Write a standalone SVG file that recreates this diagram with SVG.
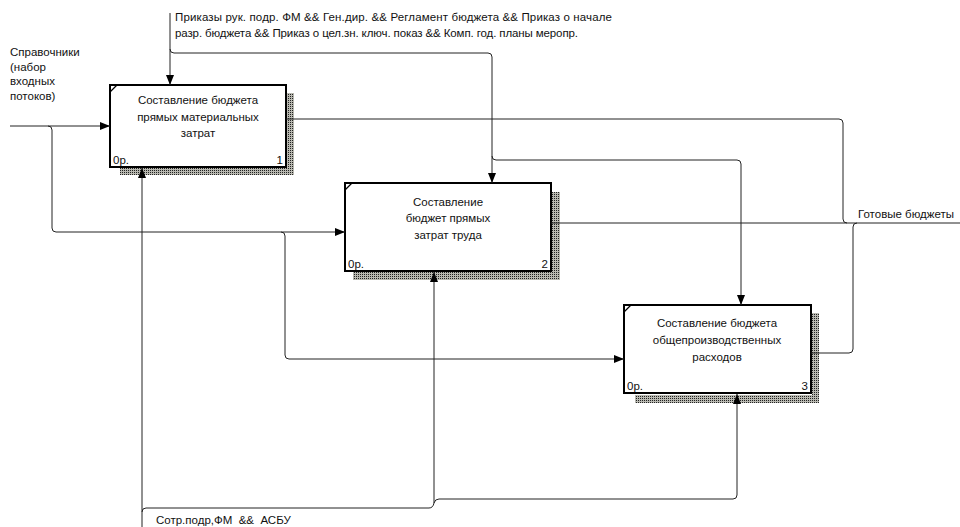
<svg xmlns="http://www.w3.org/2000/svg" width="960" height="527" viewBox="0 0 960 527">
  <defs>
    <pattern id="dots" width="2" height="2" patternUnits="userSpaceOnUse">
      <rect width="2" height="2" fill="#b8b8b0"/>
      <rect width="1" height="1" fill="#222"/>
    </pattern>
    <marker id="arrow" markerUnits="userSpaceOnUse" markerWidth="10" markerHeight="8" refX="10" refY="4" orient="auto">
      <path d="M0,0 L10,4 L0,8 z" fill="#000"/>
    </marker>
  </defs>
  <style>
    text { font-family: "Liberation Sans", Arial, sans-serif; font-size: 11.5px; fill: #111; }
    .c { text-anchor: middle; }
    .e { text-anchor: end; }
    .box { fill: #fff; stroke: #000; stroke-width: 2; }
    .shadow { fill: url(#dots); }
    .corner { stroke: #000; stroke-width: 1.2; }
    .arc { fill: none; stroke: #222; stroke-width: 1; }
    .arc.head { marker-end: url(#arrow); }
  </style>
  <rect width="960" height="527" fill="#fff"/>

  <!-- activity 1 -->
  <g id="node1">
    <rect class="shadow" x="287" y="93" width="7" height="82"/>
    <rect class="shadow" x="120" y="168" width="174" height="7"/>
    <rect class="box" x="110" y="85" width="176" height="82"/>
    <line class="corner" x1="110" y1="92" x2="117" y2="85"/>
    <text class="c" x="198" y="104">Составление бюджета</text>
    <text class="c" x="198" y="121">прямых материальных</text>
    <text class="c" x="198" y="137">затрат</text>
    <text x="113" y="164">0р.</text>
    <text class="e" x="283" y="164">1</text>
  </g>

  <!-- activity 2 -->
  <g id="node2">
    <rect class="shadow" x="552" y="192" width="8" height="88"/>
    <rect class="shadow" x="353" y="272" width="207" height="8"/>
    <rect class="box" x="345" y="183" width="206" height="88"/>
    <line class="corner" x1="345" y1="190" x2="352" y2="183"/>
    <text class="c" x="448" y="206">Составление</text>
    <text class="c" x="448" y="222">бюджет прямых</text>
    <text class="c" x="448" y="239">затрат труда</text>
    <text x="348" y="268">0р.</text>
    <text class="e" x="548" y="268">2</text>
  </g>

  <!-- activity 3 -->
  <g id="node3">
    <rect class="shadow" x="812" y="313" width="7" height="90"/>
    <rect class="shadow" x="635" y="395" width="184" height="8"/>
    <rect class="box" x="624" y="305" width="187" height="88"/>
    <line class="corner" x1="624" y1="312" x2="631" y2="305"/>
    <text class="c" x="717" y="327">Составление бюджета</text>
    <text class="c" x="717" y="344">общепроизводственных</text>
    <text class="c" x="717" y="361">расходов</text>
    <text x="627" y="390">0р.</text>
    <text class="e" x="808" y="390">3</text>
  </g>

  <!-- connectors -->
  <g id="connectors">
    <!-- input: reference data -->
    <path class="arc head" d="M10,126 H110"/>
    <path class="arc head" d="M48,126 Q52,126 52,130 V228 Q52,232 56,232 H345"/>
    <path class="arc head" d="M281,232 Q285,232 285,236 V355 Q285,359 289,359 H624"/>
    <!-- control: orders and regulations -->
    <path class="arc head" d="M170,13 V85"/>
    <path class="arc head" d="M170,49 Q170,53 174,53 H488 Q492,53 492,57 V183"/>
    <path class="arc head" d="M492,156 Q492,160 496,160 H737 Q741,160 741,164 V305"/>
    <!-- output: finished budgets -->
    <path class="arc" d="M551,223 H960"/>
    <path class="arc" d="M286,119 H839 Q843,119 843,123 V219 Q843,223 847,223"/>
    <path class="arc" d="M811,353 H849 Q853,353 853,349 V227 Q853,223 857,223"/>
    <!-- mechanism: staff and accounting system -->
    <path class="arc head" d="M142,527 V168"/>
    <path class="arc" d="M142,512 Q142,508 146,508 H429 Q433,508 434,503"/>
    <path class="arc head" d="M434,503 V272"/>
    <path class="arc head" d="M434,503 Q435,499 439,499 H733 Q737,499 737,495 V394"/>
  </g>

  <!-- arrow labels -->
  <g id="labels">
    <text x="10" y="56">Справочники</text>
    <text x="10" y="71">(набор</text>
    <text x="10" y="85">входных</text>
    <text x="10" y="100">потоков)</text>
    <text x="175" y="21" textLength="437" lengthAdjust="spacing">Приказы рук. подр. ФМ &amp;&amp; Ген.дир. &amp;&amp; Регламент бюджета &amp;&amp; Приказ о начале</text>
    <text x="175" y="37" textLength="403" lengthAdjust="spacing">разр. бюджета &amp;&amp; Приказ о цел.зн. ключ. показ &amp;&amp; Комп. год. планы меропр.</text>
    <text x="858" y="218">Готовые бюджеты</text>
    <text x="156" y="524" xml:space="preserve">Сотр.подр,ФМ  &amp;&amp;  АСБУ</text>
  </g>
</svg>
